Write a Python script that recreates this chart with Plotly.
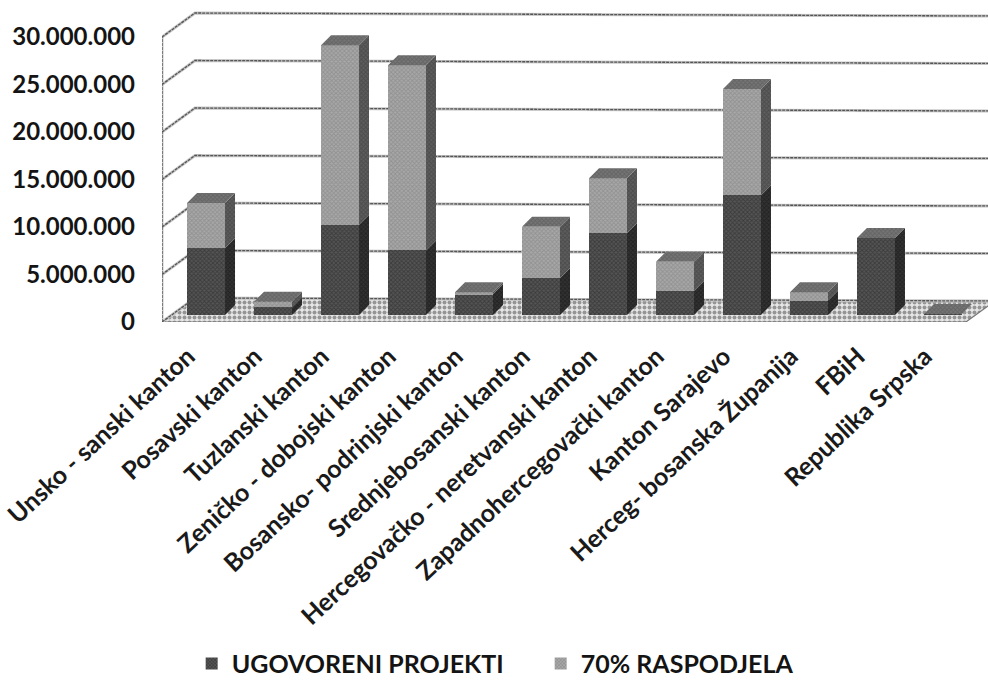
import plotly.graph_objects as go

categories = ["Unsko - sanski kanton", "Posavski kanton", "Tuzlanski kanton", "Zeničko - dobojski kanton",
              "Bosansko- podrinjski kanton", "Srednjebosanski kanton", "Hercegovačko - neretvanski kanton",
              "Zapadnohercegovački kanton", "Kanton Sarajevo", "Herceg- bosanska Županija", "FBiH", "Republika Srpska"]
ugovoreni = [7.05, 0.8, 9.5, 6.8, 2.2, 3.9, 8.6, 2.5, 12.6, 1.5, 8.1, 0.1]
raspodjela = [4.75, 0.6, 18.9, 19.5, 0.2, 5.4, 5.8, 3.1, 11.2, 0.9, 0.0, 0.0]
y_ticks = [0, 5, 10, 15, 20, 25, 30]
y_labels = ["0", "5.000.000", "10.000.000", "15.000.000", "20.000.000", "25.000.000", "30.000.000"]
series_names = ["UGOVORENI PROJEKTI", "70% RASPODJELA"]

PX_X = 67.0
PX_Y = 9.5
X0, X1 = -0.657, 11.672
Y1 = 322 / PX_Y
WALL_DX, WALL_DY = 33 / PX_X, 24 / PX_Y
RIGHT_DROP = 3 / PX_Y
BAR_W = 38 / PX_X
BAR_BASE = 7 / PX_Y
BAR_DX, BAR_DY = 10 / PX_X, 10 / PX_Y
DARK, LIGHT = "#3c3c3c", "#949494"
FONT = "Lato, Carlito, sans-serif"

def grid_line():
    xs, ys = [], []
    for v in y_ticks:
        xs += [X0, X0 + WALL_DX, X1 + 0.1, None]
        ys += [v, v + WALL_DY, v + WALL_DY - RIGHT_DROP, None]
    xs += [X0, X0, None]
    ys += [0, y_ticks[-1], None]
    return xs, ys

def faces(lows, highs):
    sx, sy = [], []
    for i, (lo, hi) in enumerate(zip(lows, highs)):
        if hi <= lo:
            continue
        r = i + BAR_W / 2
        sx += [r, r + BAR_DX, r + BAR_DX, r, r, None]
        sy += [lo, lo + BAR_DY, hi + BAR_DY, hi, lo, None]
    return sx, sy

def tops(levels):
    tx, ty = [], []
    for i, h in enumerate(levels):
        r = i + BAR_W / 2
        l = i - BAR_W / 2
        tx += [l, r, r + BAR_DX, l + BAR_DX, l, None]
        ty += [h, h, h + BAR_DY, h + BAR_DY, h, None]
    return tx, ty

fig = go.Figure()

# floor
fig.add_trace(go.Scatter(
    x=[X0, X0 + WALL_DX, X1 + 0.1, X1 - 0.33, X0],
    y=[0, WALL_DY, WALL_DY - RIGHT_DROP, 0, 0],
    mode="lines", fill="toself", fillcolor="#e2e2e2",
    fillpattern=dict(shape=".", fgcolor="#444444", bgcolor="#e6e6e6", size=5, solidity=0.5),
    line=dict(color="#777777", width=1.2), showlegend=False, hoverinfo="skip"))
# gridlines
gx, gy = grid_line()
fig.add_trace(go.Scatter(x=gx, y=gy, mode="lines", line=dict(color="#c4c4c4", width=3),
                         showlegend=False, hoverinfo="skip"))
fig.add_trace(go.Scatter(x=gx, y=gy, mode="lines", line=dict(color="#555555", width=1.3, dash="3px,1px"),
                         showlegend=False, hoverinfo="skip"))

xs = list(range(len(categories)))
lows = [BAR_BASE] * len(xs)
mids = [BAR_BASE + u for u in ugovoreni]
highs = [m + r for m, r in zip(mids, raspodjela)]

fig.add_trace(go.Bar(x=xs, y=ugovoreni, base=lows, width=BAR_W, name=series_names[0],
                     marker=dict(color=DARK, line=dict(width=0),
                                 pattern=dict(shape="x", fgcolor="#222222", bgcolor="#555555", size=3, solidity=0.5)),
                     xaxis="x2", yaxis="y2"))
fig.add_trace(go.Bar(x=xs, y=raspodjela, base=mids, width=BAR_W, name=series_names[1],
                     marker=dict(color=LIGHT, line=dict(width=0),
                                 pattern=dict(shape="x", fgcolor="#7a7a7a", bgcolor="#a8a8a8", size=3, solidity=0.5)),
                     xaxis="x2", yaxis="y2"))

sx, sy = faces(lows, mids)
fig.add_trace(go.Scatter(x=sx, y=sy, mode="lines", fill="toself", fillcolor="#262626",
                         fillpattern=dict(shape="x", fgcolor="#111111", bgcolor="#333333", size=3, solidity=0.5),
                         line=dict(width=0), showlegend=False, hoverinfo="skip", xaxis="x2", yaxis="y2"))
sx, sy = faces(mids, highs)
fig.add_trace(go.Scatter(x=sx, y=sy, mode="lines", fill="toself", fillcolor="#4e4e4e",
                         fillpattern=dict(shape="x", fgcolor="#383838", bgcolor="#5e5e5e", size=3, solidity=0.5),
                         line=dict(width=0), showlegend=False, hoverinfo="skip", xaxis="x2", yaxis="y2"))
tx, ty = tops(highs)
fig.add_trace(go.Scatter(x=tx, y=ty, mode="lines", fill="toself", fillcolor="#666666",
                         fillpattern=dict(shape="x", fgcolor="#505050", bgcolor="#767676", size=3, solidity=0.5),
                         line=dict(width=0), showlegend=False, hoverinfo="skip", xaxis="x2", yaxis="y2"))

fig.update_layout(
    width=988, height=680, autosize=False,
    margin=dict(l=162, r=0, t=0, b=358),
    paper_bgcolor="white", plot_bgcolor="white",
    barmode="overlay", bargap=0,
    font=dict(family=FONT, color="#141414"),
    xaxis=dict(range=[X0, X1], tickvals=xs, ticktext=categories, tickangle=-43, ticks="",
               showgrid=False, zeroline=False, showline=False, ticklabelstandoff=14, ticklabelshift=-18,
               tickfont=dict(family=FONT, size=25, color="#1a1a1a", weight=700)),
    yaxis=dict(range=[0, Y1], tickvals=y_ticks, ticktext=y_labels, ticks="",
               showgrid=False, zeroline=False, showline=False, ticklabelstandoff=26,
               tickfont=dict(family=FONT, size=24, color="#141414", weight=700)),
    xaxis2=dict(range=[X0, X1], overlaying="x", visible=False),
    yaxis2=dict(range=[0, Y1], overlaying="y", visible=False),
    legend=dict(orientation="h", x=0.194, y=0.024, xanchor="left", yanchor="middle", xref="container", yref="container",
                entrywidth=304, entrywidthmode="pixels", itemwidth=30,
                font=dict(family=FONT, size=25, color="#141414", weight=700), bgcolor="rgba(0,0,0,0)"),
)
fig.write_html("out.html", config=dict(displayModeBar=False),
               post_script="document.body.style.margin='0';document.body.style.overflow='hidden';")
